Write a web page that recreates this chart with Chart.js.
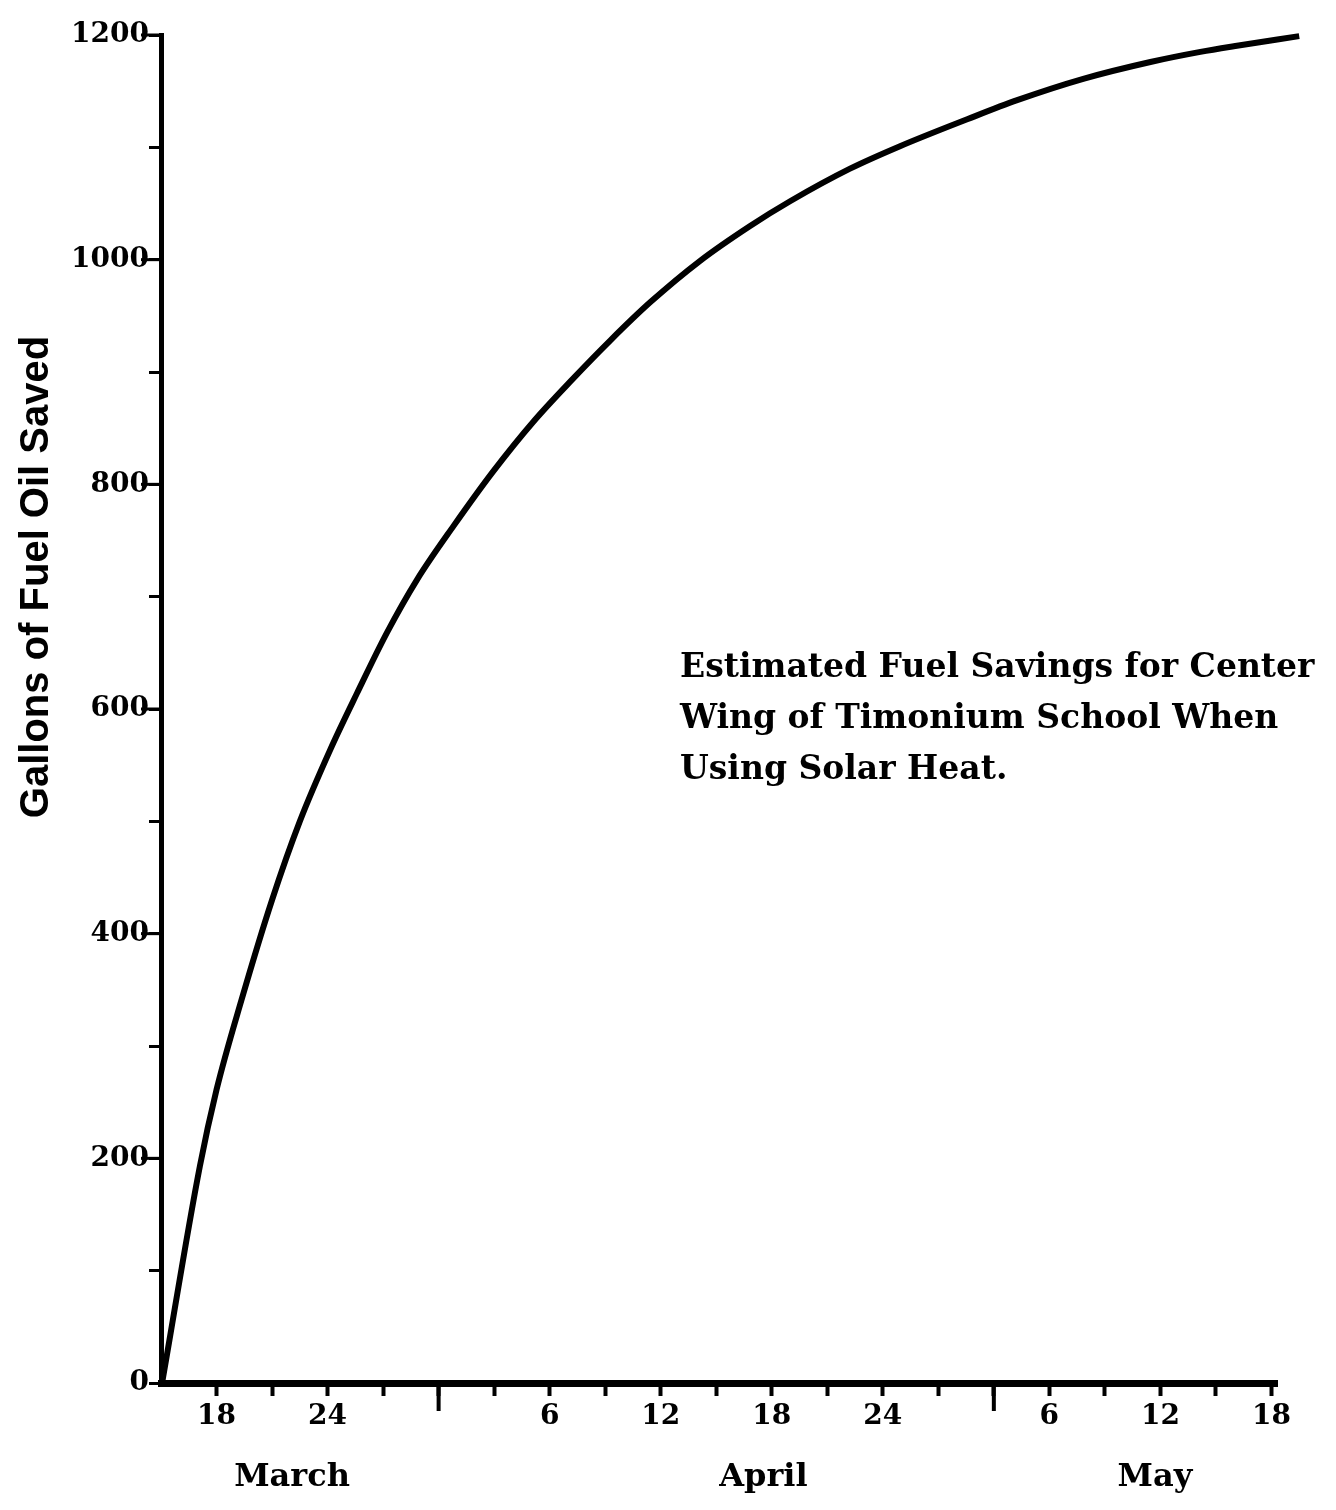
<!DOCTYPE html>
<html>
<head>
<meta charset="utf-8">
<script src="https://cdn.jsdelivr.net/npm/chart.js@4/dist/chart.umd.min.js"></script>
<style>
  html, body { margin: 0; padding: 0; background: #fff; }
  #wrap { width: 1336px; height: 1510px; }
</style>
</head>
<body>
<div id="wrap"><canvas id="chart" width="1336" height="1510"></canvas></div>
<script>
// x positions are in tick steps (3 days each), 0 = March 18
const dayPos = [-0.98, -0.30, 0.00, 0.45, 1.00, 1.50, 2.05, 2.53, 3.07, 3.61, 4.27, 4.99, 5.71, 6.40, 7.09,
  7.81, 8.71, 9.61, 10.33, 11.41, 12.31, 13.52, 14.42, 15.61, 16.82, 17.72, 18.32, 19.50];
const gallonsSaved = [0, 193, 261, 341, 430, 500, 564, 614, 668, 715, 763, 812, 856, 893, 928,
  962, 999, 1030, 1052, 1081, 1101, 1125, 1142, 1161, 1176, 1185, 1190, 1199];

const xTicks = [0, 1, 2, 3, 4, 5, 6, 7, 8, 9, 10, 11, 12, 13, 14, 15, 16, 17, 18, 19];
const xTickLabels = ['18', '', '24', '', '', '', '6', '', '12', '', '18', '', '24', '', '', '6', '', '12', '', '18'];
const monthBreaks = [4, 14];
const months = ['March', 'April', 'May'];
const monthPos = [1.36, 9.85, 16.9];

const yTicks = [0, 100, 200, 300, 400, 500, 600, 700, 800, 900, 1000, 1100, 1200];
const yTickLabels = ['0', '', '200', '', '400', '', '600', '', '800', '', '1000', '', '1200'];

const yTitle = 'Gallons of Fuel Oil Saved';
const note = ['Estimated Fuel Savings for Center', 'Wing of Timonium School When', 'Using Solar Heat.'];

const serif = '"DejaVu Serif", serif';

// month labels, longer month-boundary ticks, axis title and the note
const extras = {
  id: 'extras',
  afterDraw(chart) {
    const ctx = chart.ctx;
    const x = chart.scales.x;
    const y = chart.scales.y;
    const { left, bottom } = chart.chartArea;
    ctx.save();
    ctx.strokeStyle = '#000';
    ctx.lineWidth = 4;
    monthBreaks.forEach(v => {
      const px = x.getPixelForValue(v);
      ctx.beginPath();
      ctx.moveTo(px, bottom);
      ctx.lineTo(px, bottom + 28);
      ctx.stroke();
    });
    // labelled y ticks are a bit longer
    ctx.lineWidth = 3;
    yTicks.forEach((v, i) => {
      if (!yTickLabels[i] || v === 0) return;
      const py = y.getPixelForValue(v);
      ctx.beginPath();
      ctx.moveTo(left - 20, py);
      ctx.lineTo(left, py);
      ctx.stroke();
    });

    ctx.fillStyle = '#000';
    ctx.font = 'bold 32px ' + serif;
    ctx.textAlign = 'center';
    ctx.textBaseline = 'alphabetic';
    months.forEach((m, i) => {
      ctx.fillText(m, x.getPixelForValue(monthPos[i]), 1486);
    });

    ctx.save();
    ctx.translate(37, 577);
    ctx.rotate(-Math.PI / 2);
    ctx.font = 'bold 40px "Liberation Sans", Arial, sans-serif';
    ctx.textBaseline = 'middle';
    ctx.fillText(yTitle, 0, 0);
    ctx.restore();

    ctx.font = 'bold 33px ' + serif;
    ctx.textAlign = 'left';
    note.forEach((line, i) => {
      ctx.fillText(line, 680, 677 + i * 51);
    });
    ctx.restore();
  }
};

new Chart(document.getElementById('chart'), {
  type: 'line',
  data: {
    datasets: [{
      data: dayPos.map((d, i) => ({ x: d, y: gallonsSaved[i] })),
      borderColor: '#000',
      borderWidth: 6,
      pointRadius: 0,
      cubicInterpolationMode: 'monotone',
      fill: false,
      clip: false
    }]
  },
  options: {
    responsive: false,
    animation: false,
    layout: { padding: { top: 35, right: 59, left: 0, bottom: 0 } },
    plugins: { legend: { display: false }, tooltip: { enabled: false } },
    scales: {
      x: {
        type: 'linear',
        min: -1,
        max: 19.1,
        afterBuildTicks: s => { s.ticks = xTicks.map(v => ({ value: v })); },
        afterFit: s => { s.height = 127; },
        ticks: {
          autoSkip: false,
          maxRotation: 0,
          padding: 4,
          color: '#000',
          font: { family: serif, size: 28, weight: 'bold' },
          callback: (v, i) => xTickLabels[i]
        },
        grid: { drawOnChartArea: false, tickLength: 13, tickWidth: 4, tickColor: '#000' },
        border: { color: '#000', width: 7 }
      },
      y: {
        min: 0,
        max: 1200,
        afterBuildTicks: s => { s.ticks = yTicks.map(v => ({ value: v })); },
        afterFit: s => { s.width = 161; },
        ticks: {
          autoSkip: false,
          padding: 0,
          color: '#000',
          font: { family: serif, size: 28, weight: 'bold' },
          callback: (v, i) => yTickLabels[i]
        },
        grid: { drawOnChartArea: false, tickLength: 12, tickWidth: 3, tickColor: '#000' },
        border: { color: '#000', width: 5 }
      }
    }
  },
  plugins: [extras]
});
</script>
</body>
</html>
